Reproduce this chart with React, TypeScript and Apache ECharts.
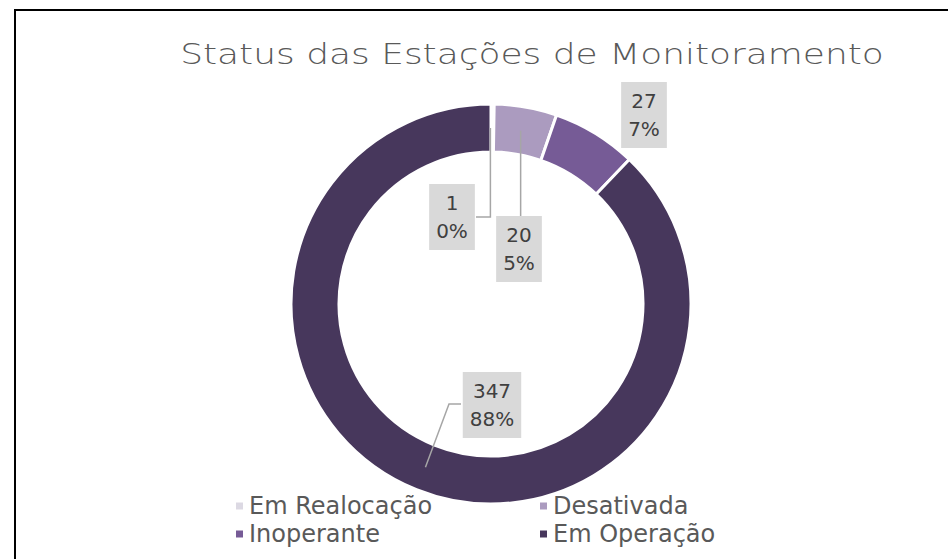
import React, { useEffect, useRef } from "react";
import * as echarts from "echarts";

const TITLE = "Status das Estações de Monitoramento";
const CATEGORIES = ["Em Realocação", "Desativada", "Inoperante", "Em Operação"];
const VALUES = [1, 20, 27, 347];
const COLORS = ["#dcd9e3", "#ab9bbf", "#765b96", "#47375c"];

// layout constants (pixels)
const W = 948;
const H = 559;
const CENTER: [number, number] = [491, 304];
const R_IN = 152;
const R_OUT = 200;
const LABEL_CENTERS: [number, number][] = [
  [452, 217],
  [519, 249],
  [644, 115],
  [492, 405],
];
const FONT = "'DejaVu Sans', sans-serif";

function sliceMidPoint(i: number): [number, number] {
  const total = VALUES.reduce((a, b) => a + b, 0);
  let before = 0;
  for (let k = 0; k < i; k++) before += VALUES[k];
  const frac = (before + VALUES[i] / 2) / total;
  const ang = frac * Math.PI * 2; // clockwise from top
  const r = (R_IN + R_OUT) / 2;
  return [CENTER[0] + r * Math.sin(ang), CENTER[1] - r * Math.cos(ang)];
}

export default function App() {
  const ref = useRef<HTMLDivElement>(null);
  useEffect(() => {
    if (!ref.current) return;
    const chart = echarts.init(ref.current, undefined, { renderer: "svg" });

    const m0 = sliceMidPoint(0);
    const m1 = sliceMidPoint(1);
    const m3 = sliceMidPoint(3);
    const lineStyle = { stroke: "#a6a6a6", lineWidth: 1.5, fill: null as any };
    const leaders = [
      {
        type: "polyline",
        shape: { points: [[476, LABEL_CENTERS[0][1]], [m0[0] - 2, LABEL_CENTERS[0][1]], [m0[0] - 2, m0[1]]] },
        style: lineStyle,
        z: 10,
      },
      {
        type: "polyline",
        shape: { points: [[m1[0] - 1, 216], [m1[0] - 1, m1[1]]] },
        style: lineStyle,
        z: 10,
      },
      {
        type: "polyline",
        shape: { points: [[461, LABEL_CENTERS[3][1] - 1], [449, LABEL_CENTERS[3][1] - 1], m3] },
        style: lineStyle,
        z: 10,
      },
    ];

    const legendText = { fontFamily: FONT, fontSize: 24, color: "#595959", lineHeight: 24 };

    chart.setOption({
      animation: false,
      backgroundColor: "#ffffff",
      textStyle: { fontFamily: FONT },
      legend: [
        {
          orient: "vertical",
          left: 229,
          top: 489,
          icon: "rect",
          itemWidth: 9,
          itemHeight: 9,
          itemGap: 4,
          selectedMode: false,
          data: [CATEGORIES[0], CATEGORIES[2]],
          textStyle: legendText,
        },
        {
          orient: "vertical",
          left: 533,
          top: 489,
          icon: "rect",
          itemWidth: 9,
          itemHeight: 9,
          itemGap: 4,
          selectedMode: false,
          data: [CATEGORIES[1], CATEGORIES[3]],
          textStyle: legendText,
        },
      ],
      graphic: [
        {
          type: "text",
          x: 532,
          y: 54,
          scaleX: 1.24,
          style: {
            text: TITLE,
            fontFamily: FONT,
            fontSize: 29,
            fontWeight: 200,
            fill: "#595959",
            textAlign: "center",
            textVerticalAlign: "middle",
          },
          z: 50,
        },
        {
          type: "polyline",
          shape: { points: [[15, H], [15, 10], [W, 10]] },
          style: { stroke: "#000000", lineWidth: 2, fill: null },
          z: 100,
        },
        ...leaders,
      ],
      series: [
        {
          type: "pie",
          center: CENTER,
          radius: [R_IN, R_OUT],
          startAngle: 90,
          clockwise: true,
          percentPrecision: 0,
          avoidLabelOverlap: false,
          emphasis: { disabled: true },
          itemStyle: { borderColor: "#ffffff", borderWidth: 3 },
          label: {
            show: true,
            formatter: "{c}\n{d}%",
            fontFamily: FONT,
            fontSize: 20,
            lineHeight: 28,
            color: "#404040",
            backgroundColor: "#d9d9d9",
            padding: [5, 7, 5, 7],
            align: "center",
          },
          labelLine: { show: false },
          labelLayout: (params: any) => {
            const p = LABEL_CENTERS[params.dataIndex];
            return { x: p[0], y: p[1], align: "center", verticalAlign: "middle" };
          },
          data: CATEGORIES.map((name, i) => ({
            name,
            value: VALUES[i],
            itemStyle: { color: COLORS[i] },
          })),
        },
      ],
    });
    return () => chart.dispose();
  }, []);

  return (
    <div
      ref={ref}
      style={{ position: "fixed", left: 0, top: 0, width: W, height: H, background: "#fff" }}
    />
  );
}
